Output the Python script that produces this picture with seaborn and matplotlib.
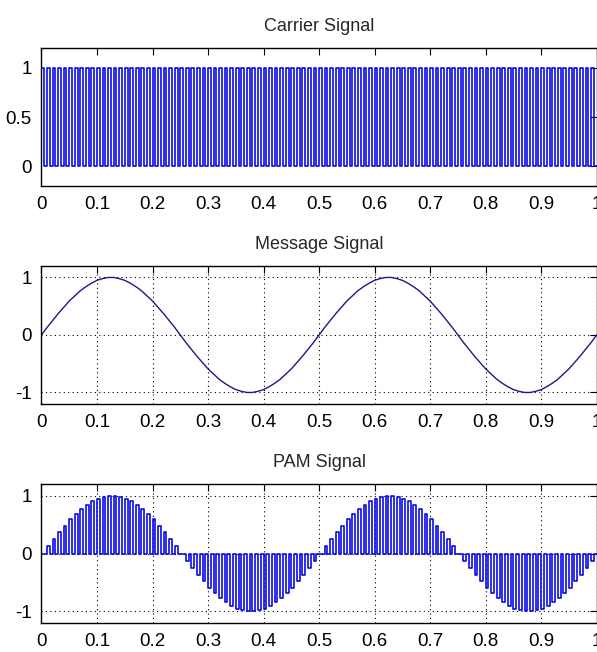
import numpy as np
import pandas as pd
import matplotlib
matplotlib.use("Agg")
import matplotlib.pyplot as plt
import seaborn as sns

# ---- data ----
# message samples at t = 0, 0.01, ..., 1.00
message_t = [round(0.01 * k, 2) for k in range(101)]
message_v = [
    0.00, 0.13, 0.25, 0.37, 0.48, 0.59, 0.68, 0.77, 0.84, 0.90,
    0.95, 0.98, 1.00, 1.00, 0.98, 0.95, 0.90, 0.84, 0.77, 0.68,
    0.59, 0.48, 0.37, 0.25, 0.13, 0.00, -0.13, -0.25, -0.37, -0.48,
    -0.59, -0.68, -0.77, -0.84, -0.90, -0.95, -0.98, -1.00, -1.00, -0.98,
    -0.95, -0.90, -0.84, -0.77, -0.68, -0.59, -0.48, -0.37, -0.25, -0.13,
    0.00, 0.13, 0.25, 0.37, 0.48, 0.59, 0.68, 0.77, 0.84, 0.90,
    0.95, 0.98, 1.00, 1.00, 0.98, 0.95, 0.90, 0.84, 0.77, 0.68,
    0.59, 0.48, 0.37, 0.25, 0.13, 0.00, -0.13, -0.25, -0.37, -0.48,
    -0.59, -0.68, -0.77, -0.84, -0.90, -0.95, -0.98, -1.00, -1.00, -0.98,
    -0.95, -0.90, -0.84, -0.77, -0.68, -0.59, -0.48, -0.37, -0.25, -0.13,
    0.00,
]
carrier_level = 1.0
pulse_times = message_t[:-1]          # one pulse every 0.01 s
x_ticks = [0, 0.1, 0.2, 0.3, 0.4, 0.5, 0.6, 0.7, 0.8, 0.9, 1]
x_tick_labels = ["0", "0.1", "0.2", "0.3", "0.4", "0.5", "0.6", "0.7", "0.8", "0.9", "1"]
carrier_yticks = [0, 0.5, 1]
carrier_ylabels = ["0", "0.5", "1"]
signal_yticks = [-1, 0, 1]
signal_ylabels = ["-1", "0", "1"]
titles = ["Carrier Signal", "Message Signal", "PAM Signal"]

PULSE_WIDTH = 0.005


def pulse_path(times, heights, width):
    xs, ys = [], []
    for t, h in zip(times, heights):
        xs += [t, t, t + width, t + width]
        ys += [0, h, h, 0]
    xs.append(1.0)
    ys.append(0)
    return pd.DataFrame({"t": xs, "v": ys})


sns.set_style("white")
FONT = ["Liberation Sans", "DejaVu Sans"]
plt.rcParams["font.family"] = FONT
plt.rcParams["xtick.direction"] = "in"
plt.rcParams["ytick.direction"] = "in"

fig = plt.figure(figsize=(5.97, 6.52), dpi=100)
positions = [
    [0.0695, 0.7147, 0.93, 0.2117],
    [0.0695, 0.3804, 0.93, 0.2117],
    [0.0695, 0.0445, 0.93, 0.2130],
]
axes = [fig.add_axes(p) for p in positions]

blue = "#0a0ae6"

carrier_df = pulse_path(pulse_times, [carrier_level] * len(pulse_times), PULSE_WIDTH)
sns.lineplot(data=carrier_df, x="t", y="v", sort=False, estimator=None,
             ax=axes[0], color=blue, linewidth=1.2)

msg_df = pd.DataFrame({"t": message_t, "v": message_v})
sns.lineplot(data=msg_df, x="t", y="v", sort=False, estimator=None,
             ax=axes[1], color="#1a1a8a", linewidth=1.0)

pam_df = pulse_path(pulse_times, message_v[:-1], PULSE_WIDTH)
sns.lineplot(data=pam_df, x="t", y="v", sort=False, estimator=None,
             ax=axes[2], color=blue, linewidth=1.2)

ylims = [(-0.2, 1.2), (-1.2, 1.2), (-1.2, 1.2)]
yticks = [carrier_yticks, signal_yticks, signal_yticks]
ylabels = [carrier_ylabels, signal_ylabels, signal_ylabels]

for i, ax in enumerate(axes):
    ax.set_xlim(0, 1)
    ax.set_ylim(*ylims[i])
    ax.set_xticks(x_ticks)
    ax.set_xticklabels(x_tick_labels)
    ax.set_yticks(yticks[i])
    ax.set_yticklabels(ylabels[i])
    ax.set_xlabel("")
    ax.set_ylabel("")
    ax.tick_params(axis="both", which="both", direction="in", length=5,
                   width=0.8, top=True, right=True, labelsize=13.5,
                   pad=7, colors="black")
    for s in ax.spines.values():
        s.set_visible(True)
        s.set_color("black")
        s.set_linewidth(1.0)
    if i > 0:
        ax.grid(True, linestyle=(0, (1, 3)), color="black", linewidth=0.8)
        ax.set_axisbelow(True)
    ax.set_title(titles[i], fontsize=13, pad=12)

fig.savefig("out.png", dpi=100)
